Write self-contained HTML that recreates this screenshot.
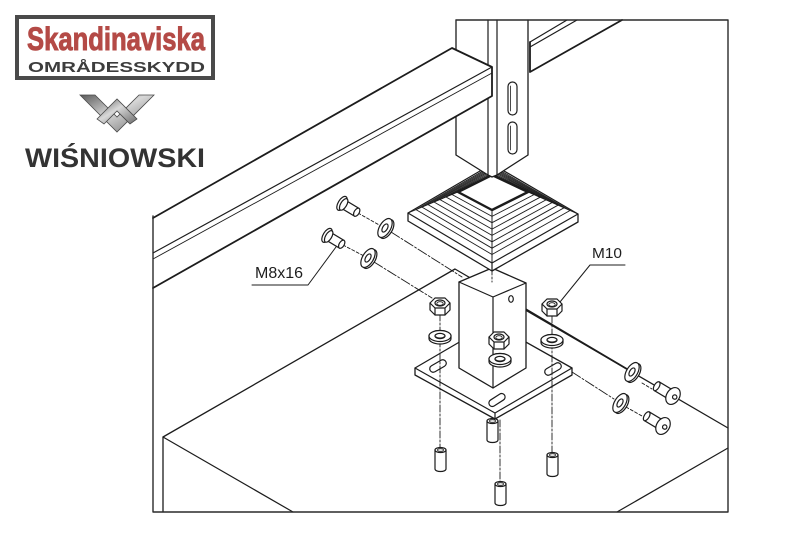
<!DOCTYPE html>
<html><head><meta charset="utf-8"><style>html,body{margin:0;padding:0;background:#fff}svg{display:block}</style></head>
<body>
<svg width="800" height="533" viewBox="0 0 800 533" xmlns="http://www.w3.org/2000/svg" font-family="'Liberation Sans', sans-serif">
<defs>
  <linearGradient id="metal" x1="0" y1="0" x2="1" y2="1">
    <stop offset="0" stop-color="#5a5a5a"/>
    <stop offset="0.45" stop-color="#d8d8d8"/>
    <stop offset="1" stop-color="#6a6a6a"/>
  </linearGradient>
  <g id="nut">
    <path d="M-10,-3 L-5,-8 L5,-8 L10,-3 L10,4 L5,9 L-5,9 L-10,4 Z" fill="#fff"/>
    <path d="M-10,-3 L-5,2 L5,2 L10,-3 M-5,2 V9 M5,2 V9" fill="none"/>
    <ellipse cx="0" cy="-3" rx="5" ry="3" fill="#fff"/>
    <ellipse cx="0" cy="-2.5" rx="3.2" ry="1.8" fill="none" stroke-width="0.8"/>
  </g>
  <g id="washH">
    <path d="M-11,0 A11,5.5 0 0 1 11,0 V2.5 A11,5.5 0 0 1 -11,2.5 Z" fill="#fff"/>
    <ellipse cx="0" cy="0" rx="11" ry="5.5" fill="#fff"/>
    <ellipse cx="0" cy="0" rx="5" ry="2.6" fill="#fff"/>
    <path d="M-4,0.8 A4.5,2 0 0 0 4,0.8" fill="none" stroke-width="0.8"/>
  </g>
  <g id="stud">
    <path d="M-5.5,0 V19 A5.5,2.5 0 0 0 5.5,19 V0" fill="#fff"/>
    <ellipse cx="0" cy="0" rx="5.5" ry="2.5" fill="#fff"/>
    <ellipse cx="0" cy="0" rx="3" ry="1.3" fill="none" stroke-width="0.8"/>
  </g>
  <g id="bolt8">
    <path d="M0,-4.5 H16 V4.5 H0 Z" fill="#fff"/>
    <ellipse cx="16" cy="0" rx="2.5" ry="4.5" fill="#fff"/>
    <ellipse cx="-1.2" cy="0" rx="3.8" ry="7.8" fill="#fff"/>
    <ellipse cx="0.8" cy="0" rx="3" ry="6.5" fill="#fff"/>
  </g>
  <g id="bolt10">
    <path d="M-19,-5 H-3 V5 H-19 Z" fill="#fff"/>
    <ellipse cx="-19" cy="0" rx="2.5" ry="5" fill="#fff"/>
    <ellipse cx="0" cy="0" rx="6.5" ry="9" fill="#fff"/>
    <circle cx="2" cy="0" r="2.2" fill="#fff"/>
  </g>
  <g id="washV">
    <ellipse cx="2" cy="0" rx="5.5" ry="10.5" fill="#fff"/>
    <ellipse cx="0" cy="0" rx="5.5" ry="10.5" fill="#fff"/>
    <ellipse cx="0" cy="0" rx="2.4" ry="4.5" fill="#fff"/>
  </g>
</defs>

<rect width="800" height="533" fill="#fff"/>

<!-- Logo -->
<rect x="17" y="17" width="196" height="61" fill="#fff" stroke="#4a4a4a" stroke-width="4"/>
<text x="27" y="50" font-size="32" font-weight="bold" fill="#b44a46" stroke="#b44a46" stroke-width="0.9" textLength="178" lengthAdjust="spacingAndGlyphs">Skandinaviska</text>
<text x="28" y="72" font-size="15" font-weight="bold" fill="#3d3d3d" textLength="177" lengthAdjust="spacingAndGlyphs">OMRÅDESSKYDD</text>
<g stroke="#4a4a4a" stroke-width="0.8" stroke-linejoin="miter">
  <polygon points="80,95 117,132 154,95 139,95 117,117 95,95" fill="url(#metal)"/>
  <polygon points="97,119 117,99 137,119 130,124 117,111 104,124" fill="url(#metal)"/>
</g>
<text x="25" y="167" font-size="27" font-weight="bold" fill="#333" textLength="180" lengthAdjust="spacingAndGlyphs">WIŚNIOWSKI</text>

<g stroke="#1c1c1c" stroke-width="1.2" fill="none" stroke-linejoin="round" stroke-linecap="round">
  <!-- table -->
  <path d="M163,512 V437 L455,269 L728,428" stroke-width="1.3"/>
  <path d="M163,437 L293,512"/>
  <path d="M728,448 L617,512"/>
  <path d="M512,301 L632,372" stroke-width="1.8"/>

  <!-- rail behind post (right) -->
  <path d="M530,42 L567,20 M530,47 L577,20"/>
  <path d="M530,72 L622,20 M530,42 V72" stroke-width="1.8"/>

  <!-- dash lines -->
  <g stroke-width="0.9" stroke-dasharray="10 2 2 2">
    <path d="M391,232 L462,277"/>
    <path d="M374,262 L432,298"/>
    <path d="M572,372 L614,399"/>
  </g>
  <g stroke-width="0.9" stroke-dasharray="3 2">
    <path d="M358,213 L381,226"/>
    <path d="M343,245 L364,256"/>
    <path d="M626,407 L642,416"/>
    <path d="M642,383 L652,389"/>
  </g>

  <!-- upper center stud -->
  <use href="#stud" x="492.5" y="421"/>

  <!-- base plate -->
  <path d="M415,368 L492,323 L572,368 L572,375 L495,419 L415,375 Z" fill="#fff" stroke-width="1.3"/>
  <path d="M415,368 L495,413 L572,368 M495,413 V419"/>
  <g fill="#fff">
    <rect x="-9" y="-3.5" width="18" height="7" rx="3.5" transform="translate(438,366) rotate(-30)"/>
    <rect x="-9" y="-3.5" width="18" height="7" rx="3.5" transform="translate(553,369) rotate(-30)"/>
    <rect x="-9" y="-3.5" width="18" height="7" rx="3.5" transform="translate(497,400) rotate(-33)"/>
  </g>

  <!-- base tube -->
  <path d="M459,282 L492,268 L526,283 L526,368 L493,388 L459,368 Z" fill="#fff" stroke-width="1.3"/>
  <path d="M459,282 L493,297 L526,283 M493,297 V388"/>
  <ellipse cx="511" cy="299" rx="2.3" ry="3.3" fill="#fff"/>

  <!-- vertical dash lines -->
  <g stroke-width="0.9" stroke-dasharray="7 2 2 2">
    <path d="M440,314 V450"/>
    <path d="M552,316 V455"/>
    <path d="M500,420 V483"/>
    <path d="M492,177 V282"/>
  </g>

  <!-- studs -->
  <use href="#stud" x="440.5" y="450"/>
  <use href="#stud" x="552.5" y="455"/>
  <use href="#stud" x="500.5" y="484"/>

  <!-- nuts & washers -->
  <use href="#washH" x="440" y="336"/>
  <use href="#nut" x="440" y="306"/>
  <use href="#washH" x="552" y="340"/>
  <use href="#nut" x="552" y="307"/>
  <use href="#washH" x="500" y="359"/>
  <use href="#nut" x="499" y="340"/>

  <!-- cap -->
  <path d="M408,213 L492,164 L578,214 L578,222 L492,271 L408,221 Z" fill="#fff" stroke-width="1.3"/>
  <path d="M408,213 L492,263 L578,214 M492,263 V271"/>
  <g stroke-width="0.9">
    <polygon points="492,165.8 416,209.6 492,254.5 570,210.5"/>
    <polygon points="492,167.1 422,207.1 492,248.2 564,207.8"/>
    <polygon points="492,168.4 428,204.6 492,241.8 558,205.2"/>
    <polygon points="492,169.7 434,202 492,235.4 552,202.6"/>
    <polygon points="492,171 440,199.6 492,229.1 546,199.9"/>
    <polygon points="492,172.4 446,197 492,222.7 540,197.3"/>
    <polygon points="492,173.7 452,194.5 492,216.4 534,194.6"/>
    <path d="M458,192 L408,213 M492,210 V263 M528,192 L578,214"/>
  </g>
  <polygon points="492,175 458,192 492,210 528,192" fill="#fff" stroke-width="2.4"/>
  <path d="M492,212 V262" stroke-width="0.9" stroke-dasharray="7 2 2 2"/>

  <!-- post -->
  <path d="M456,20 L456,155 L488,175 L492,177 L497,175 L528,155 L528,20" fill="#fff" stroke-width="1.3"/>
  <path d="M488,20 V175 M497,20 V175"/>
  <rect x="508" y="82" width="9" height="33" rx="4.5" fill="#fff"/>
  <rect x="508" y="122" width="9" height="32" rx="4.5" fill="#fff"/>
  <path d="M510.5,86 V111" stroke-width="0.8"/>
  <path d="M510.5,126 V150" stroke-width="0.8"/>

  <!-- rail (left) -->
  <path d="M153,218 L452,48 L492,67 L492,96 L153,288" fill="#fff" stroke-width="1.8"/>
  <path d="M492,67 L153,253"/>
  <path d="M492,73 L153,259" stroke-width="0.9"/>

  <!-- bolts & washers -->
  <use href="#bolt8" transform="translate(343,204) rotate(31)"/>
  <use href="#bolt8" transform="translate(328,236) rotate(31)"/>
  <use href="#washV" transform="translate(385,228) rotate(31)"/>
  <use href="#washV" transform="translate(368,258) rotate(31)"/>
  <use href="#washV" transform="translate(632,372) rotate(31)"/>
  <use href="#washV" transform="translate(620,403) rotate(31)"/>
  <use href="#bolt10" transform="translate(673,396) rotate(31)"/>
  <use href="#bolt10" transform="translate(663,426) rotate(31)"/>

  <!-- leaders -->
  <path d="M252,285 H308 L336,247" stroke-width="1"/>
  <path d="M625,265 H590 L560,302" stroke-width="1"/>

  <!-- frame -->
  <path d="M153,216 V512 H728 V20 H456" stroke="#2a2a2a" stroke-width="1.4"/>
</g>

<text x="255" y="278" font-size="16" fill="#1e1e1e" textLength="48" lengthAdjust="spacingAndGlyphs">M8x16</text>
<text x="592" y="258" font-size="15" fill="#1e1e1e" textLength="30" lengthAdjust="spacingAndGlyphs">M10</text>
</svg>
</body></html>
